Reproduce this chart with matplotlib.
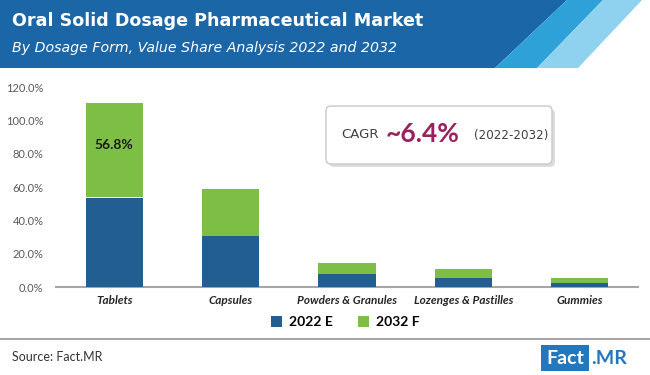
import matplotlib.pyplot as plt
from matplotlib.patches import Polygon, FancyBboxPatch, Rectangle
import numpy as np

# données
categories = ["Tablets", "Capsules", "Powders & Granules", "Lozenges & Pastilles", "Gummies"]
val_2022 = [53.7, 30.7, 7.8, 5.2, 2.6]
val_2032 = [56.8, 28.4, 6.6, 5.6, 2.6]
yticks = [0, 20, 40, 60, 80, 100, 120]

bleu = "#235e92"
vert = "#7dbf44"
gris = "#595959"

W, H = 650, 375
fig = plt.figure(figsize=(6.5, 3.75), dpi=100)
fig.patch.set_facecolor("white")

# graphique
ax = fig.add_axes([56 / W, 1 - 287 / H, (638 - 56) / W, 200 / H])
x = np.arange(len(categories))
ax.bar(x, val_2022, width=0.49, color=bleu, label="2022 E", zorder=3)
ax.bar(x, val_2032, width=0.49, bottom=val_2022, color=vert, label="2032 F", zorder=3)
ax.text(x[0], val_2022[0] + val_2032[0] * 0.55, f"{val_2032[0]:.1f}%", ha="center", va="center",
        fontsize=10, fontweight="bold", color="#1a1a1a", family="Lato", zorder=4)

ax.set_xlim(-0.5, len(categories) - 0.5)
ax.set_ylim(0, 120)
ax.set_yticks(yticks)
ax.set_yticklabels([f"{v:.1f}%" for v in yticks], fontsize=8, color=gris, family="Lato")
ax.set_xticks(x)
ax.set_xticklabels(categories, fontsize=8.5, fontweight="bold", style="italic", color="#262626",
                   family="Lato")
for s in ["top", "right", "left"]:
    ax.spines[s].set_visible(False)
ax.spines["bottom"].set_color("#a6a6a6")
ax.spines["bottom"].set_linewidth(1.5)
ax.tick_params(axis="both", length=0)
ax.tick_params(axis="y", pad=9)
ax.tick_params(axis="x", pad=6)

leg = fig.legend(loc="center", bbox_to_anchor=(345 / W, 1 - 322 / H), ncol=2, frameon=False,
                 prop={"family": "Lato", "weight": "bold", "size": 10}, handlelength=0.8,
                 handleheight=0.8, columnspacing=1.8, handletextpad=0.5)

# calque par-dessus (coordonnées en pixels)
bg = fig.add_axes([0, 0, 1, 1])
bg.set_xlim(0, W)
bg.set_ylim(H, 0)
bg.axis("off")
bg.patch.set_alpha(0)

bg.add_patch(Polygon([(0, 0), (567, 0), (495, 68), (0, 68)], closed=True, color="#1b66a7", lw=0))
bg.add_patch(Polygon([(567, 0), (603, 0), (537, 68), (495, 68)], closed=True, color="#2ea1d9", lw=0))
bg.add_patch(Polygon([(603, 0), (642, 0), (578, 68), (537, 68)], closed=True, color="#8fd2ef", lw=0))

bg.text(12, 21, "Oral Solid Dosage Pharmaceutical Market", color="white", fontsize=12.6,
        fontweight="bold", family="DejaVu Sans", va="center", ha="left")
bg.text(12, 48, "By Dosage Form, Value Share Analysis 2022 and 2032", color="white", fontsize=10.2,
        style="italic", family="DejaVu Sans", va="center", ha="left")

# ligne du bas + source
bg.plot([0, 650], [339, 339], color="#a6a6a6", lw=1.5)
bg.text(12, 357, "Source: Fact.MR", color="#333333", fontsize=9, family="Lato", va="center")
bg.add_patch(Rectangle((541, 345), 48, 26, color="#2277bd", lw=0))
bg.text(565, 358, "Fact", color="white", fontsize=14, fontweight="bold", family="Lato",
        va="center", ha="center")
bg.text(591, 358, ".MR", color="#2277bd", fontsize=14, fontweight="bold", family="Lato",
        va="center", ha="left")

# encadré CAGR
bg.add_patch(FancyBboxPatch((329, 109), 226, 58, boxstyle="round,pad=0,rounding_size=5",
                            fc="#cfcfcf", ec="none", alpha=0.7))
bg.add_patch(FancyBboxPatch((326, 106), 226, 58, boxstyle="round,pad=0,rounding_size=5",
                            fc="white", ec="#c8c8c8", lw=1))
bg.text(341, 135, "CAGR", color="#404040", fontsize=9.5, family="DejaVu Sans", va="center")
bg.text(386, 134, "~6.4%", color="#9c1f5e", fontsize=19, fontweight="bold", family="Lato", va="center")
bg.text(474, 135, "(2022-2032)", color="#404040", fontsize=8.6, family="DejaVu Sans", va="center")

plt.savefig("out.png", dpi=100)
